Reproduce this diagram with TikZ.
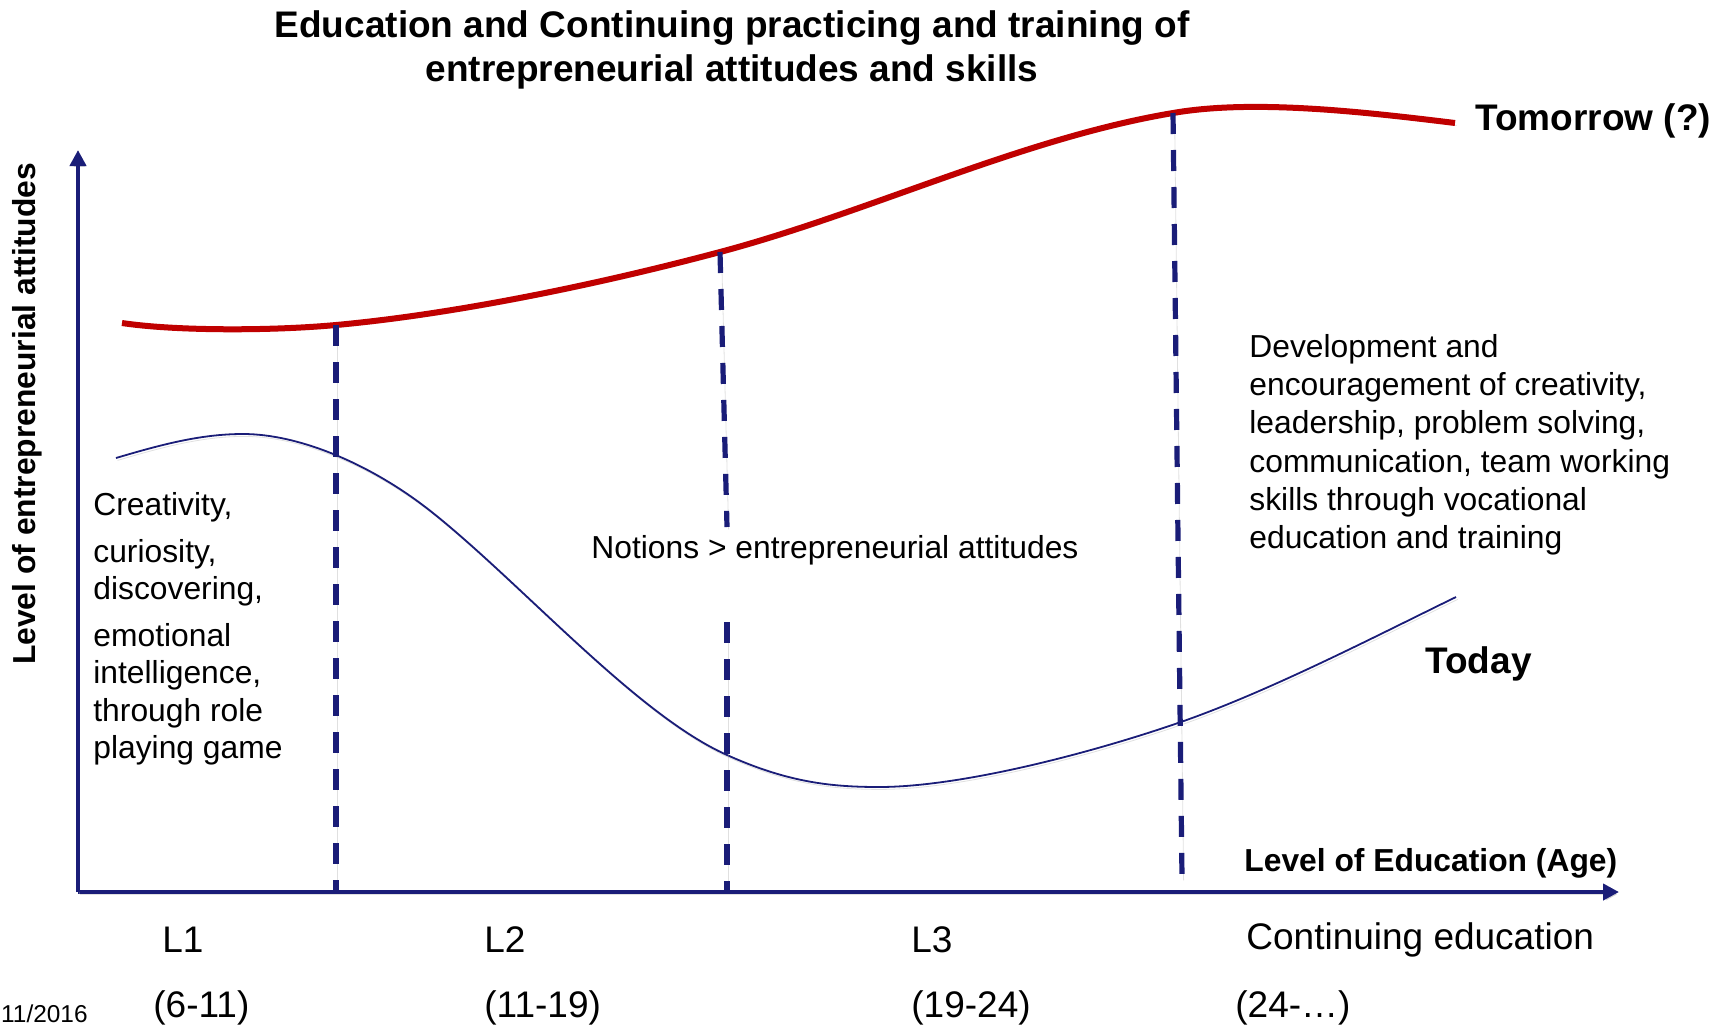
\documentclass[tikz,border=0pt]{standalone}
\usepackage{fontspec}
\setmainfont{Liberation Sans}
\usetikzlibrary{arrows.meta}
\definecolor{navy}{RGB}{26,29,120}
\definecolor{darkred}{RGB}{192,0,0}

\begin{document}
\begin{tikzpicture}
            \tikzset{x=0.5pt, y=-0.5pt}
            \tikzstyle{shade}=[preaction={draw=black!35, opacity=0.35, transform canvas={shift={(0.8pt,-1.2pt)}}}]
            \tikzstyle{axis}=[navy, line width=2pt, -{Triangle[length=8pt, width=8pt]}, shade]
            \tikzstyle{divider}=[navy, line width=2.6pt, dash pattern=on 10.5pt off 8pt, shade]
            \tikzstyle{txt}=[inner sep=0pt, font=\fontsize{15.9}{19.1}\selectfont]
            \tikzstyle{boldtxt}=[inner sep=0pt, font=\fontsize{15.9}{19.1}\selectfont\bfseries]
            \tikzstyle{big}=[inner sep=0pt, font=\fontsize{18.5}{22}\selectfont]
            \tikzstyle{bigbold}=[inner sep=0pt, font=\fontsize{18.5}{22}\selectfont\bfseries]

            \useasboundingbox (0, 0) rectangle (1732, 1028);

            % axes
            \coordinate (o)     at (78, 892);
            \coordinate (xend)  at (1619, 892);
            \coordinate (yend)  at (78, 150);

            % divider ends
            \coordinate (d1t)   at (336, 325);
            \coordinate (d1b)   at (336, 892);
            \coordinate (d2t)   at (720, 252);
            \coordinate (d2m)   at (727, 527);
            \coordinate (d2n)   at (727, 622);
            \coordinate (d2b)   at (727, 892);
            \coordinate (d3t)   at (1173, 113);
            \coordinate (d3b)   at (1182, 878);

            % tomorrow
            \draw [darkred, line width=3pt, shade] (122, 323)
                .. controls (175, 331) and (270, 331) .. (d1t)
                .. controls (456, 314) and (600, 284) .. (d2t)
                .. controls (870, 212) and (1023, 138) .. (d3t)
                .. controls (1253, 99) and (1365, 112) .. (1455, 123);

            % today
            \draw [navy, line width=0.9pt, shade] (116, 458)
                .. controls (160, 445) and (200, 434) .. (243, 434)
                .. controls (300, 434) and (373, 465) .. (433, 513)
                .. controls (523, 585) and (637, 715) .. (727, 755)
                .. controls (787, 782) and (830, 787) .. (879, 787)
                .. controls (960, 787) and (1088, 754) .. (1178, 723)
                .. controls (1268, 692) and (1376, 636) .. (1456, 597);

            \draw [divider]     (d1t) -- (d1b);
            \draw [divider]     (d2t) -- (d2m);
            \draw [divider]     (d2n) -- (d2b);
            \draw [divider]     (d3t) -- (d3b);

            \draw [axis]        (o) -- (xend);
            \draw [axis]        (o) -- (yend);

            \draw (732, 10)     node[bigbold, align=center, anchor=north]  (title)
                {Education and Continuing practicing and training of\\entrepreneurial attitudes and skills};
            \draw (1475, 130)   node[bigbold, anchor=base west]   (tmrw)    {Tomorrow (?)};
            \draw (1425, 673)   node[bigbold, anchor=base west]   (today)   {Today};
            \draw (1244, 871)   node[boldtxt, anchor=base west]   (xlbl)    {Level of Education (Age)};
            \draw (27, 414)     node[boldtxt, rotate=90]          (ylbl)    {Level of entrepreneurial attitudes};

            \draw (93, 492)     node[txt, align=left, anchor=north west, font=\fontsize{15.9}{18.6}\selectfont] (l1txt)
                {Creativity,\\[4.9pt]curiosity,\\discovering,\\[4.9pt]emotional\\intelligence,\\through role\\playing game};
            \draw (591, 558)    node[txt, anchor=base west]       (l2txt)   {Notions > entrepreneurial attitudes};
            \draw (1249, 334)   node[txt, align=left, anchor=north west] (l3txt)
                {Development and\\encouragement of creativity,\\leadership, problem solving,\\communication, team working\\skills through vocational\\education and training};

            \draw (162, 952)    node[big, anchor=base west]       (lv1)     {L1};
            \draw (484, 952)    node[big, anchor=base west]       (lv2)     {L2};
            \draw (911, 952)    node[big, anchor=base west]       (lv3)     {L3};
            \draw (1246, 949)   node[big, anchor=base west]       (lv4)     {Continuing education};
            \draw (153, 1017)   node[big, anchor=base west]       (age1)    {(6-11)};
            \draw (484, 1017)   node[big, anchor=base west]       (age2)    {(11-19)};
            \draw (911, 1017)   node[big, anchor=base west]       (age3)    {(19-24)};
            \draw (1235, 1017)  node[big, anchor=base west]       (age4)    {(24-…)};

            \draw (88, 1022)    node[inner sep=0pt, anchor=base east, font=\fontsize{12.2}{14}\selectfont] (date) {11/2016};
\end{tikzpicture}
\end{document}
